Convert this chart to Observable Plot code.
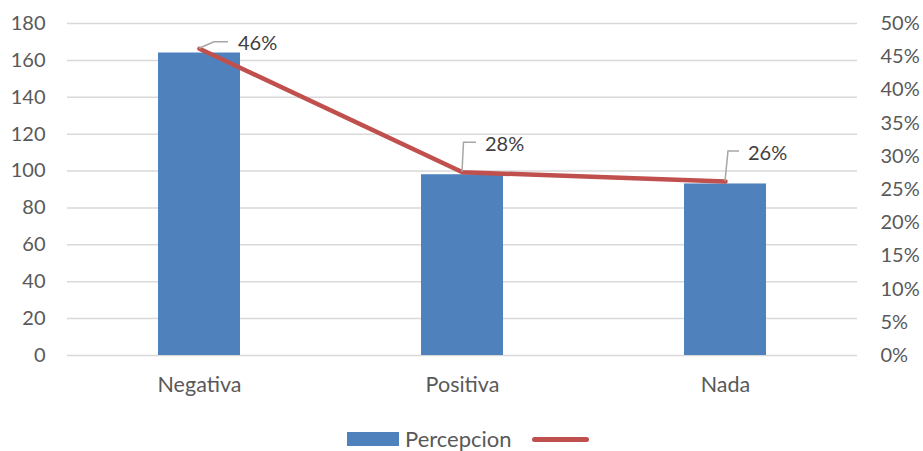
<!DOCTYPE html>
<html>
<head>
<meta charset="utf-8">
<script src="https://cdn.jsdelivr.net/npm/d3@7"></script>
<script src="https://cdn.jsdelivr.net/npm/@observablehq/plot@0.6"></script>
<style>
  html, body { margin: 0; padding: 0; background: #ffffff; }
  #chart { width: 923px; }
  .legend { position: relative; width: 923px; height: 41px; font-family: Lato, "Open Sans", sans-serif; font-size: 22px; color: #595959; }
  .legend .sw-bar { position: absolute; left: 347px; top: 22px; width: 52px; height: 14px; background: #4f81bd; }
  .legend .lbl { position: absolute; left: 405px; top: 16px; line-height: 26px; }
  .legend .sw-line { position: absolute; left: 532px; top: 27px; width: 57px; height: 5px; border-radius: 3px; background: #c0504d; }
</style>
</head>
<body>
<div id="chart"></div>
<script>
// ---- data ----
const categories = ["Negativa", "Positiva", "Nada"];
const counts = [164, 98, 93];              // Percepcion (left axis)
const percents = [46.2, 27.6, 26.2];       // line (right axis, %)
const leftTicks = [0, 20, 40, 60, 80, 100, 120, 140, 160, 180];
const rightTicks = [0, 5, 10, 15, 20, 25, 30, 35, 40, 45, 50];

// right axis maps 0–50% onto left 0–180
const k = 180 / 50;

const bars = categories.map((c, i) => ({category: c, value: counts[i]}));
const line = categories.map((c, i) => ({category: c, pct: percents[i]}));

// label placement (pixel offsets from each line point) – style only
const labelStyle = [
  {leader: [[0, 0], [15, -6.5], [29, -6.5]], tx: 39, ty: -5},
  {leader: [[0, 0], [1.5, -29.5], [14, -29.5]], tx: 23, ty: -28},
  {leader: [[0, 0], [3, -30], [14, -30]], tx: 23, ty: -28.5}
];

function labelsMark(index, scales) {
  const x = scales.x, y = scales.y;
  const bw = x.bandwidth ? x.bandwidth() : 0;
  const g = d3.create("svg:g");
  line.forEach((d, i) => {
    const px = x(d.category) + bw / 2;
    const py = y(d.pct * k);
    const s = labelStyle[i];
    g.append("path")
      .attr("d", d3.line()(s.leader.map(([dx, dy]) => [px + dx, py + dy])))
      .attr("fill", "none")
      .attr("stroke", "#a6a6a6")
      .attr("stroke-width", 1.5);
    g.append("text")
      .attr("x", px + s.tx)
      .attr("y", py + s.ty)
      .attr("dy", "0.35em")
      .attr("text-anchor", "start")
      .attr("fill", "#404040")
      .attr("font-size", 20)
      .text(Math.round(d.pct) + "%");
  });
  return g.node();
}

const plot = Plot.plot({
  width: 923,
  height: 410,
  marginTop: 23,
  marginBottom: 55,
  marginLeft: 67,
  marginRight: 66,
  style: {fontFamily: "Lato, 'Open Sans', sans-serif", fontSize: "20px", color: "#595959", background: "#ffffff"},
  x: {domain: categories, paddingInner: 0.69, paddingOuter: 0.345, label: null},
  y: {domain: [0, 180], label: null},
  marks: [
    Plot.gridY(leftTicks, {stroke: "#d9d9d9", strokeOpacity: 1, strokeWidth: 1.5}),
    Plot.barY(bars, {x: "category", y: "value", fill: "#4f81bd"}),
    Plot.line(line, {x: "category", y: d => d.pct * k, stroke: "#c0504d", strokeWidth: 4.5, strokeLinecap: "round", strokeLinejoin: "round"}),
    Plot.axisY(leftTicks, {anchor: "left", tickSize: 0, tickPadding: 22, fontSize: 20, label: null}),
    Plot.axisY(rightTicks.map(p => p * k), {anchor: "right", tickSize: 0, tickPadding: 23, fontSize: 20, label: null, tickFormat: d => Math.round(d / k) + "%"}),
    Plot.axisX({tickSize: 0, tickPadding: 21, fontSize: 21.5, label: null}),
    labelsMark
  ]
});

document.getElementById("chart").appendChild(plot);

const legend = document.createElement("div");
legend.className = "legend";
legend.innerHTML = '<div class="sw-bar"></div><div class="lbl">Percepcion</div><div class="sw-line"></div>';
document.getElementById("chart").appendChild(legend);
</script>
</body>
</html>
